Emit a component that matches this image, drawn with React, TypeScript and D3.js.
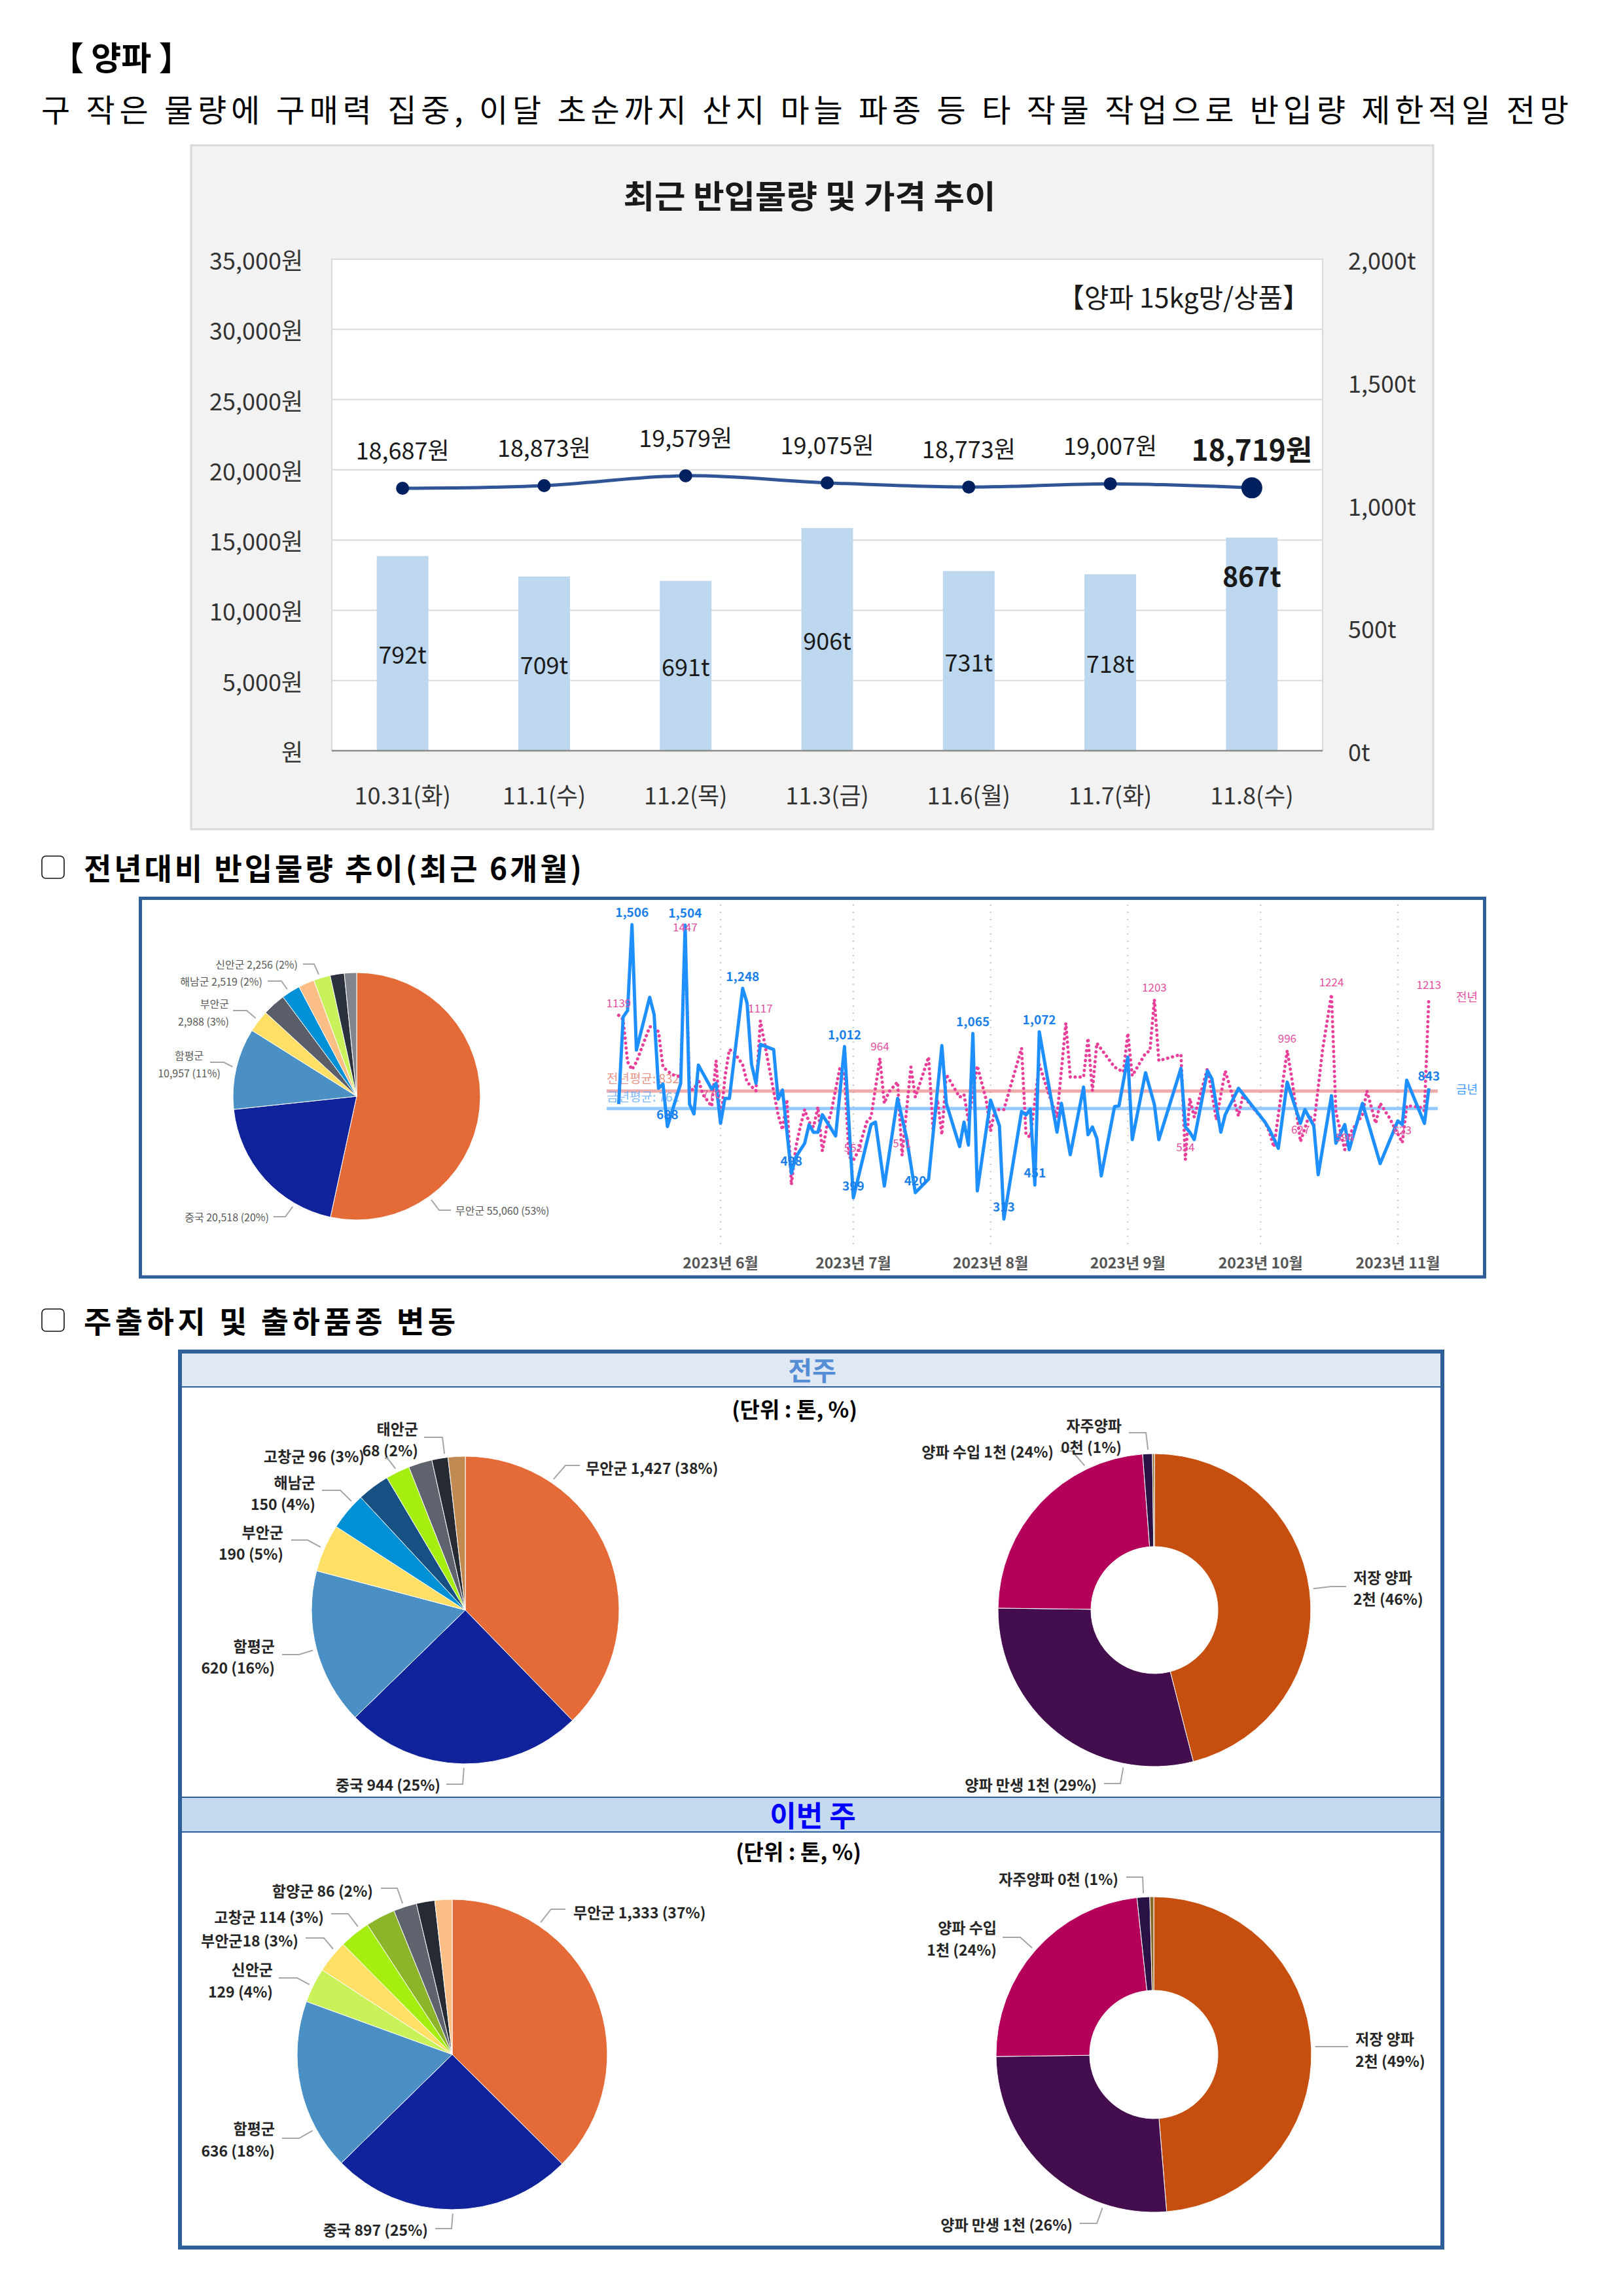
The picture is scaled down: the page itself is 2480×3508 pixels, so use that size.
import * as d3 from "d3";

const FONT = "'Noto Sans CJK KR', 'Noto Sans', sans-serif";

// ---------- recent volume & price (bar + line)
const barDates = ["10.31(화)", "11.1(수)", "11.2(목)", "11.3(금)", "11.6(월)", "11.7(화)", "11.8(수)"];
const barVolumes = [792, 709, 691, 906, 731, 718, 867];
const barPrices = [18687, 18873, 19579, 19075, 18773, 19007, 18719];
const priceTicks = [0, 5000, 10000, 15000, 20000, 25000, 30000, 35000];
const volumeTicks = [0, 500, 1000, 1500, 2000];

// ---------- six-month pie (origin share)
const sixMonthValues = [55060, 20518, 10957, 2988, 3100, 2519, 2150, 2256, 1900, 1650];
const sixMonthColors = ["#e46b38", "#10239b", "#4a90c4", "#ffdf66", "#5a5e68", "#0090d6", "#fbbf85", "#c9f25a", "#2b313d", "#80858e"];

// ---------- daily volume, this year vs last year
const thisYear: [string, number][] = [
  ["05-09", 779], ["05-10", 1132], ["05-11", 1158], ["05-12", 1506], ["05-13", 998], ["05-16", 1212],
  ["05-17", 1142], ["05-18", 843], ["05-19", 860], ["05-20", 688], ["05-23", 863], ["05-24", 1504],
  ["05-25", 779], ["05-26", 739], ["05-27", 937], ["05-30", 840], ["05-31", 863], ["06-01", 701],
  ["06-02", 802], ["06-03", 802], ["06-06", 1248], ["06-07", 1188], ["06-08", 941], ["06-09", 863],
  ["06-10", 1021], ["06-13", 1000], ["06-14", 799], ["06-15", 836], ["06-17", 498], ["06-18", 564],
  ["06-20", 620], ["06-21", 696], ["06-22", 665], ["06-23", 665], ["06-24", 736], ["06-27", 650],
  ["06-29", 1012], ["07-01", 399], ["07-05", 696], ["07-06", 706], ["07-08", 447], ["07-11", 802],
  ["07-13", 645], ["07-15", 420], ["07-18", 475], ["07-21", 1016], ["07-22", 782], ["07-25", 607],
  ["07-26", 706], ["07-27", 613], ["07-28", 1065], ["07-29", 427], ["08-01", 795], ["08-03", 691],
  ["08-04", 313], ["08-08", 749], ["08-09", 735], ["08-10", 759], ["08-11", 451], ["08-12", 1072],
  ["08-16", 665], ["08-17", 782], ["08-19", 574], ["08-22", 848], ["08-23", 655], ["08-24", 686],
  ["08-25", 640], ["08-26", 488], ["08-29", 769], ["08-30", 772], ["09-01", 970], ["09-02", 635],
  ["09-05", 906], ["09-07", 777], ["09-08", 635], ["09-13", 924], ["09-14", 686], ["09-15", 665],
  ["09-16", 635], ["09-19", 914], ["09-20", 881], ["09-22", 665], ["09-23", 736], ["09-26", 843],
  ["10-02", 706], ["10-03", 676], ["10-05", 600], ["10-07", 868], ["10-10", 701], ["10-11", 757],
  ["10-13", 691], ["10-14", 493], ["10-17", 813], ["10-18", 620], ["10-20", 696], ["10-21", 594],
  ["10-24", 782], ["10-28", 538], ["11-01", 711], ["11-02", 696], ["11-03", 876], ["11-07", 701],
  ["11-08", 843],
];
const lastYear: [string, number][] = [
  ["05-09", 1139], ["05-10", 1122], ["05-11", 950], ["05-12", 919], ["05-13", 950], ["05-16", 1092],
  ["05-17", 1094], ["05-18", 1071], ["05-19", 929], ["05-21", 899], ["05-23", 889], ["05-24", 1447],
  ["05-25", 838], ["05-26", 838], ["05-27", 879], ["05-28", 818], ["05-30", 770], ["05-31", 955],
  ["06-01", 698], ["06-02", 889], ["06-03", 1000], ["06-04", 990], ["06-06", 939], ["06-07", 868],
  ["06-09", 833], ["06-10", 1117], ["06-11", 1021], ["06-14", 736], ["06-15", 675], ["06-16", 797],
  ["06-17", 452], ["06-18", 604], ["06-19", 686], ["06-20", 757], ["06-21", 706], ["06-22", 686],
  ["06-23", 767], ["06-24", 589], ["06-25", 686], ["06-26", 747], ["06-28", 929], ["06-29", 901],
  ["06-30", 566], ["07-01", 552], ["07-02", 584], ["07-04", 706], ["07-05", 726], ["07-07", 964],
  ["07-08", 782], ["07-09", 828], ["07-11", 868], ["07-12", 571], ["07-14", 929], ["07-15", 807],
  ["07-18", 970], ["07-19", 676], ["07-20", 797], ["07-21", 655], ["07-22", 899], ["07-25", 807],
  ["07-26", 818], ["07-27", 711], ["07-29", 934], ["07-31", 797], ["08-01", 670], ["08-02", 757],
  ["08-04", 757], ["08-08", 1006], ["08-09", 655], ["08-10", 645], ["08-12", 939], ["08-14", 828],
  ["08-16", 726], ["08-18", 1107], ["08-19", 889], ["08-22", 889], ["08-23", 1046], ["08-24", 833],
  ["08-25", 1026], ["08-29", 929], ["08-31", 909], ["09-01", 1066], ["09-02", 894], ["09-05", 985],
  ["09-06", 995], ["09-07", 1203], ["09-08", 955], ["09-13", 980], ["09-14", 554], ["09-15", 802],
  ["09-16", 726], ["09-19", 924], ["09-21", 716], ["09-23", 914], ["09-26", 731], ["09-27", 813],
  ["10-02", 706], ["10-03", 665], ["10-04", 605], ["10-07", 996], ["10-08", 889], ["10-10", 627],
  ["10-12", 736], ["10-13", 691], ["10-15", 1000], ["10-17", 1224], ["10-18", 747], ["10-20", 594],
  ["10-21", 655], ["10-24", 736], ["10-25", 833], ["10-27", 701], ["10-28", 782], ["10-30", 726],
  ["11-02", 623], ["11-03", 772], ["11-06", 767], ["11-07", 752], ["11-08", 1213],
];
const thisYearLabelled = ["05-12", "05-20", "05-24", "06-06", "06-17", "06-29", "07-01", "07-15", "07-28", "08-04", "08-11", "08-12", "11-08"];
const lastYearLabelled = ["05-09", "05-24", "05-30", "06-10", "07-01", "07-07", "07-12", "09-07", "09-14", "10-07", "10-10", "10-17", "10-20", "11-02", "11-08"];
const lastYearAvg = 832;
const thisYearAvg = 761;

// ---------- shipments by origin / variety
const prevOriginValues = [1427, 944, 620, 190, 150, 128, 96, 94, 64, 68];
const prevOriginColors = ["#e46b38", "#10239b", "#4a90c4", "#ffdf66", "#0090d6", "#175082", "#a6ee10", "#5f636d", "#262a33", "#c08a50"];
const curOriginValues = [1333, 897, 636, 129, 121, 114, 110, 86, 68, 64];
const curOriginColors = ["#e46b38", "#10239b", "#4a90c4", "#c9f25a", "#ffdf66", "#a6ee10", "#8db52a", "#5f636d", "#262a33", "#fbbf85"];
const varietyColors = ["#c64f0f", "#440e4e", "#b4005a", "#2a1146", "#8a6a2a"];
const prevVarietyValues = [46, 29.2, 23.6, 1, 0.2];
const curVarietyValues = [48.7, 26.1, 23.5, 1.3, 0.4];

type PieLabel = {
  lines: string[];
  tx: number;
  ty: number;
  anchor: "start" | "middle" | "end";
  lx: number;
  ex: number;
  ly: number;
  angle: number;
};

const sixMonthLabels: PieLabel[] = [
  { lines: ["신안군 2,256 (2%)"], tx: 455, ty: 1473, anchor: "end", lx: 463, ex: 480, ly: 1473, angle: 342.7 },
  { lines: ["해남군 2,519 (2%)"], tx: 401, ty: 1499, anchor: "end", lx: 409, ex: 430, ly: 1499, angle: 327 },
  { lines: ["부안군", "2,988 (3%)"], tx: 350, ty: 1533, anchor: "end", lx: 356, ex: 377, ly: 1544, angle: 307.7 },
  { lines: ["함평군", "10,957 (11%)"], tx: 289, ty: 1612, anchor: "middle", lx: 321, ex: 342, ly: 1623, angle: 283.4 },
  { lines: ["중국 20,518 (20%)"], tx: 411, ty: 1859, anchor: "end", lx: 418, ex: 436, ly: 1859, angle: 210.1 },
  { lines: ["무안군 55,060 (53%)"], tx: 696, ty: 1849, anchor: "start", lx: 689, ex: 671, ly: 1849, angle: 144.2 },
];

const prevOriginLabels: PieLabel[] = [
  { lines: ["태안군", "68 (2%)"], tx: 639, ty: 2182, anchor: "end", lx: 648, ex: 676, ly: 2196, angle: 352.4 },
  { lines: ["고창군 96 (3%)"], tx: 557, ty: 2224, anchor: "end", lx: 588, ex: 592, ly: 2228, angle: 333.7 },
  { lines: ["해남군", "150 (4%)"], tx: 482, ty: 2264, anchor: "end", lx: 492, ex: 520, ly: 2277, angle: 313.7 },
  { lines: ["부안군", "190 (5%)"], tx: 433, ty: 2340, anchor: "end", lx: 445, ex: 470, ly: 2353, angle: 293.5 },
  { lines: ["함평군", "620 (16%)"], tx: 420, ty: 2514, anchor: "end", lx: 431, ex: 457, ly: 2528, angle: 255.2 },
  { lines: ["중국 944 (25%)"], tx: 673, ty: 2726, anchor: "end", lx: 682, ex: 707, ly: 2726, angle: 180.5 },
  { lines: ["무안군 1,427 (38%)"], tx: 895, ty: 2242, anchor: "start", lx: 886, ex: 864, ly: 2239, angle: 34 },
];

const prevVarietyLabels: PieLabel[] = [
  { lines: ["양파 수입 1천 (24%)"], tx: 1610, ty: 2217, anchor: "end", lx: 1620, ex: 1638, ly: 2217, angle: 334.2 },
  { lines: ["자주양파", "0천 (1%)"], tx: 1714, ty: 2177, anchor: "end", lx: 1725, ex: 1751, ly: 2189, angle: 357.7 },
  { lines: ["저장 양파", "2천 (46%)"], tx: 2068, ty: 2409, anchor: "start", lx: 2057, ex: 2034, ly: 2424, angle: 82.3 },
  { lines: ["양파 만생 1천 (29%)"], tx: 1676, ty: 2726, anchor: "end", lx: 1687, ex: 1712, ly: 2725, angle: 191.2 },
];

const curOriginLabels: PieLabel[] = [
  { lines: ["함양군 86 (2%)"], tx: 570, ty: 2888, anchor: "end", lx: 582, ex: 607, ly: 2885, angle: 341.8 },
  { lines: ["고창군 114 (3%)"], tx: 495, ty: 2928, anchor: "end", lx: 506, ex: 532, ly: 2924, angle: 323.6 },
  { lines: ["부안군18 (3%)"], tx: 456, ty: 2964, anchor: "end", lx: 467, ex: 495, ly: 2961, angle: 311.5 },
  { lines: ["신안군", "129 (4%)"], tx: 417, ty: 3008, anchor: "end", lx: 426, ex: 454, ly: 3022, angle: 296.1 },
  { lines: ["함평군", "636 (18%)"], tx: 420, ty: 3251, anchor: "end", lx: 431, ex: 457, ly: 3267, angle: 241.4 },
  { lines: ["중국 897 (25%)"], tx: 654, ty: 3406, anchor: "end", lx: 665, ex: 690, ly: 3405, angle: 179.8 },
  { lines: ["무안군 1,333 (37%)"], tx: 876, ty: 2921, anchor: "start", lx: 864, ex: 842, ly: 2917, angle: 33.8 },
];

const curVarietyLabels: PieLabel[] = [
  { lines: ["자주양파 0천 (1%)"], tx: 1709, ty: 2870, anchor: "end", lx: 1721, ex: 1746, ly: 2868, angle: 356.3 },
  { lines: ["양파 수입", "1천 (24%)"], tx: 1523, ty: 2944, anchor: "end", lx: 1532, ex: 1559, ly: 2960, angle: 311.2 },
  { lines: ["저장 양파", "2천 (49%)"], tx: 2071, ty: 3114, anchor: "start", lx: 2060, ex: 2040, ly: 3127, angle: 87.2 },
  { lines: ["양파 만생 1천 (26%)"], tx: 1639, ty: 3398, anchor: "end", lx: 1650, ex: 1676, ly: 3397, angle: 198.5 },
];

const comma = d3.format(",");
const parseDay = d3.timeParse("%Y-%m-%d");
const toDate = (md: string) => parseDay("2023-" + md) as Date;

function PriceVolumeChart() {
  const left = 507, right = 2021, top = 396, bottom = 1147;
  const priceY = d3.scaleLinear().domain([0, 35000]).range([bottom, top]);
  const volY = d3.scaleLinear().domain([0, 2000]).range([bottom, top]);
  const x = d3.scaleBand<string>().domain(barDates).range([left, right]).paddingInner(0.635).paddingOuter(0.3175);
  const cx = (d: string) => (x(d) as number) + x.bandwidth() / 2;
  const pts: [number, number][] = barDates.map((d, i) => [cx(d), priceY(barPrices[i])]);
  const line = d3.line().curve(d3.curveCatmullRom.alpha(0.5));
  const last = barDates.length - 1;
  return (
    <g>
      <rect x={292} y={222} width={1898} height={1045} fill="#f2f2f2" stroke="#d9d9d9" strokeWidth={3} />
      <text x={1237} y={296} textAnchor="middle" dominantBaseline="central" fontSize={49} fontWeight="bold" fill="#1a1a1a"
        textLength={569} lengthAdjust="spacingAndGlyphs">
        최근 반입물량 및 가격 추이
      </text>
      <rect x={left} y={top} width={right - left} height={bottom - top} fill="#fff" stroke="#d9d9d9" strokeWidth={2} />
      {priceTicks.map((t) => (
        <g key={t}>
          <line x1={left} x2={right} y1={priceY(t)} y2={priceY(t)} stroke="#d9d9d9" strokeWidth={2} />
          <text x={463} y={priceY(t)} textAnchor="end" dominantBaseline="central" fontSize={36} fill="#333">
            {t === 0 ? "원" : comma(t) + "원"}
          </text>
        </g>
      ))}
      {volumeTicks.map((t) => (
        <text key={t} x={2060} y={volY(t)} dominantBaseline="central" fontSize={36} fill="#333">
          {comma(t) + "t"}
        </text>
      ))}
      <text x={2001} y={452} textAnchor="end" dominantBaseline="central" fontSize={41} fill="#1a1a1a"
        textLength={385} lengthAdjust="spacingAndGlyphs">
        【양파 15kg망/상품】
      </text>
      {barDates.map((d, i) => (
        <g key={d}>
          <rect x={x(d)} y={volY(barVolumes[i])} width={x.bandwidth()} height={bottom - volY(barVolumes[i])} fill="#bdd7ee" />
          <text
            x={cx(d)}
            y={i === last ? volY(barVolumes[i]) + 57 : (volY(barVolumes[i]) + bottom) / 2}
            textAnchor="middle"
            dominantBaseline="central"
            fontSize={i === last ? 41 : 36}
            fontWeight={i === last ? "bold" : "normal"}
            fill="#1a1a1a"
          >
            {barVolumes[i] + "t"}
          </text>
          <text x={cx(d)} y={1213} textAnchor="middle" dominantBaseline="central" fontSize={36} fill="#333">
            {d}
          </text>
        </g>
      ))}
      <line x1={left} x2={right} y1={bottom} y2={bottom} stroke="#8c8c8c" strokeWidth={2.5} />
      <path d={line(pts) as string} fill="none" stroke="#2f5597" strokeWidth={5} />
      {pts.map((p, i) => (
        <g key={i}>
          <circle cx={p[0]} cy={p[1]} r={i === last ? 16 : 10} fill="#002060" />
          <text
            x={p[0]}
            y={p[1] - 60}
            textAnchor="middle"
            dominantBaseline="central"
            fontSize={i === last ? 44 : 36}
            fontWeight={i === last ? "bold" : "normal"}
            fill="#1a1a1a"
          >
            {comma(barPrices[i]) + "원"}
          </text>
        </g>
      ))}
    </g>
  );
}

function PieChart({
  cx, cy, r, inner, values, colors, labels, fontSize, fontWeight, textFill, lineH,
}: {
  cx: number; cy: number; r: number; inner: number; values: number[]; colors: string[];
  labels: PieLabel[]; fontSize: number; fontWeight: string; textFill: string; lineH: number;
}) {
  const arcs = d3.pie<number>().sort(null).value((d) => d)(values);
  const arc = d3.arc<d3.PieArcDatum<number>>().innerRadius(inner).outerRadius(r);
  const onRim = (deg: number): [number, number] => {
    const a = (deg * Math.PI) / 180;
    return [cx + (r + 6) * Math.sin(a), cy - (r + 6) * Math.cos(a)];
  };
  return (
    <g>
      <g transform={`translate(${cx},${cy})`}>
        {arcs.map((a, i) => (
          <path key={i} d={arc(a) as string} fill={colors[i]} stroke="#fff" strokeWidth={1} />
        ))}
      </g>
      {labels.map((l, i) => {
        const p = onRim(l.angle);
        return (
          <g key={i}>
            <polyline points={`${l.lx},${l.ly} ${l.ex},${l.ly} ${p[0]},${p[1]}`} fill="none" stroke="#a6a6a6" strokeWidth={2} />
            {l.lines.map((s, j) => (
              <text key={j} x={l.tx} y={l.ty + j * lineH} textAnchor={l.anchor} dominantBaseline="central"
                fontSize={fontSize} fontWeight={fontWeight} fill={textFill}>
                {s}
              </text>
            ))}
          </g>
        );
      })}
    </g>
  );
}

function DailyChart() {
  const x = d3.scaleTime().domain([new Date(2023, 5, 1), new Date(2023, 10, 1)]).range([1101, 2136]);
  const y = d3.scaleLinear().domain([0, 1500]).range([1980.6, 1415.1]);
  const months = d3.timeMonth.range(new Date(2023, 5, 1), new Date(2023, 10, 2));
  const fmtMonth = d3.timeFormat("%Y년 %-m월");
  const line = d3.line<[string, number]>().x((d) => x(toDate(d[0]))).y((d) => y(d[1]));
  const blue = "#1e8fff";
  const pink = "#e8409a";
  return (
    <g>
      {months.map((m) => (
        <g key={m.toISOString()}>
          <line x1={x(m)} x2={x(m)} y1={1382} y2={1905} stroke="#c8c8c8" strokeWidth={2} strokeDasharray="2 9" />
          <text x={x(m)} y={1928} textAnchor="middle" dominantBaseline="central" fontSize={23} fontWeight="bold" fill="#555">
            {fmtMonth(m)}
          </text>
        </g>
      ))}
      <line x1={927} x2={2197} y1={y(lastYearAvg)} y2={y(lastYearAvg)} stroke="#e06666" strokeOpacity={0.55} strokeWidth={5} />
      <line x1={927} x2={2197} y1={y(thisYearAvg)} y2={y(thisYearAvg)} stroke="#4da6ff" strokeOpacity={0.6} strokeWidth={5} />
      <text x={927} y={y(lastYearAvg) - 20} dominantBaseline="central" fontSize={19} fill="#e07060" fillOpacity={0.75}>
        {"전년평균: " + lastYearAvg}
      </text>
      <text x={927} y={y(thisYearAvg) - 19} dominantBaseline="central" fontSize={19} fill="#5aa8ff" fillOpacity={0.8}>
        {"금년평균: " + thisYearAvg}
      </text>
      <path d={line(lastYear) as string} fill="none" stroke={pink} strokeWidth={5} strokeDasharray="0.1 7.5" strokeLinecap="round" strokeLinejoin="round" />
      <path d={line(thisYear) as string} fill="none" stroke={blue} strokeWidth={5} strokeLinejoin="round" />
      {lastYear.filter((d) => lastYearLabelled.includes(d[0])).map((d) => (
        <text key={"p" + d[0]} x={x(toDate(d[0]))} y={y(d[1]) - 20} textAnchor="middle" dominantBaseline="central" fontSize={17} fill="#e24fa0">
          {d[1]}
        </text>
      ))}
      {thisYear.filter((d) => thisYearLabelled.includes(d[0])).map((d) => (
        <text key={"b" + d[0]} x={x(toDate(d[0]))} y={y(d[1]) - 20} textAnchor="middle" dominantBaseline="central" fontSize={19} fontWeight="bold" fill="#1a7fe8">
          {comma(d[1])}
        </text>
      ))}
      <text x={2225} y={1522} dominantBaseline="central" fontSize={18} fill="#e24fa0">전년</text>
      <text x={2225} y={1663} dominantBaseline="central" fontSize={18} fill="#3d9bff">금년</text>
    </g>
  );
}

function SectionTitle({ y, text, width }: { y: number; text: string; width: number }) {
  return (
    <g>
      <rect x={64} y={y - 16} width={34} height={34} rx={6} fill="#fff" stroke="#111" strokeWidth={1.6} />
      <text x={128} y={y} dominantBaseline="central" fontSize={46} fontWeight="bold" fill="#000" textLength={width} lengthAdjust="spacing">
        {text}
      </text>
    </g>
  );
}

export default function App() {
  return (
    <div>
      <style>{"body{margin:0;background:#fff}"}</style>
      <svg width={2480} height={3508} viewBox="0 0 2480 3508" style={{ display: "block" }} fontFamily={FONT}>
        <rect width={2480} height={3508} fill="#fff" />
        <text x={78} y={85} dominantBaseline="central" fontSize={50} fontWeight="bold" fill="#000">【 양파 】</text>
        <text x={63} y={165} dominantBaseline="central" fontSize={48} fill="#000" textLength={2334} lengthAdjust="spacing">
          구 작은 물량에 구매력 집중, 이달 초순까지 산지 마늘 파종 등 타 작물 작업으로 반입량 제한적일 전망
        </text>

        <PriceVolumeChart />

        <SectionTitle y={1324} text="전년대비  반입물량  추이(최근  6개월)" width={761} />
        <rect x={214.5} y={1372.5} width={2054} height={578.5} fill="#fff" stroke="#2f5f98" strokeWidth={5} />
        <PieChart cx={545} cy={1675} r={189} inner={0} values={sixMonthValues} colors={sixMonthColors}
          labels={sixMonthLabels} fontSize={16} fontWeight="normal" textFill="#595959" lineH={27} />
        <DailyChart />

        <SectionTitle y={2016} text="주출하지 및 출하품종 변동" width={568} />
        <rect x={275} y={2065} width={1929} height={1369} fill="#fff" stroke="#2f5f98" strokeWidth={6} />
        <rect x={278} y={2068} width={1923} height={51} fill="#dfe8f3" />
        <line x1={278} x2={2201} y1={2119} y2={2119} stroke="#2f5f98" strokeWidth={2} />
        <text x={1241} y={2092} textAnchor="middle" dominantBaseline="central" fontSize={40} fontWeight="bold" fill="#558ed5">전주</text>
        <text x={1214} y={2152} textAnchor="middle" dominantBaseline="central" fontSize={33} fontWeight="bold" fill="#000">(단위 : 톤, %)</text>
        <PieChart cx={711} cy={2460} r={235} inner={0} values={prevOriginValues} colors={prevOriginColors}
          labels={prevOriginLabels} fontSize={23} fontWeight="bold" textFill="#262626" lineH={33} />
        <PieChart cx={1764} cy={2460} r={239} inner={97} values={prevVarietyValues} colors={varietyColors}
          labels={prevVarietyLabels} fontSize={23} fontWeight="bold" textFill="#262626" lineH={33} />

        <rect x={278} y={2746} width={1923} height={53} fill="#c5d9f1" />
        <line x1={278} x2={2201} y1={2746} y2={2746} stroke="#2f5f98" strokeWidth={2} />
        <line x1={278} x2={2201} y1={2799} y2={2799} stroke="#2f5f98" strokeWidth={2} />
        <text x={1242} y={2772} textAnchor="middle" dominantBaseline="central" fontSize={44} fontWeight="bold" fill="#0000ff">이번 주</text>
        <text x={1220} y={2828} textAnchor="middle" dominantBaseline="central" fontSize={33} fontWeight="bold" fill="#000">(단위 : 톤, %)</text>
        <PieChart cx={691} cy={3139} r={237} inner={0} values={curOriginValues} colors={curOriginColors}
          labels={curOriginLabels} fontSize={23} fontWeight="bold" textFill="#262626" lineH={34} />
        <PieChart cx={1763} cy={3139} r={241} inner={98} values={curVarietyValues} colors={varietyColors}
          labels={curVarietyLabels} fontSize={23} fontWeight="bold" textFill="#262626" lineH={34} />
      </svg>
    </div>
  );
}
